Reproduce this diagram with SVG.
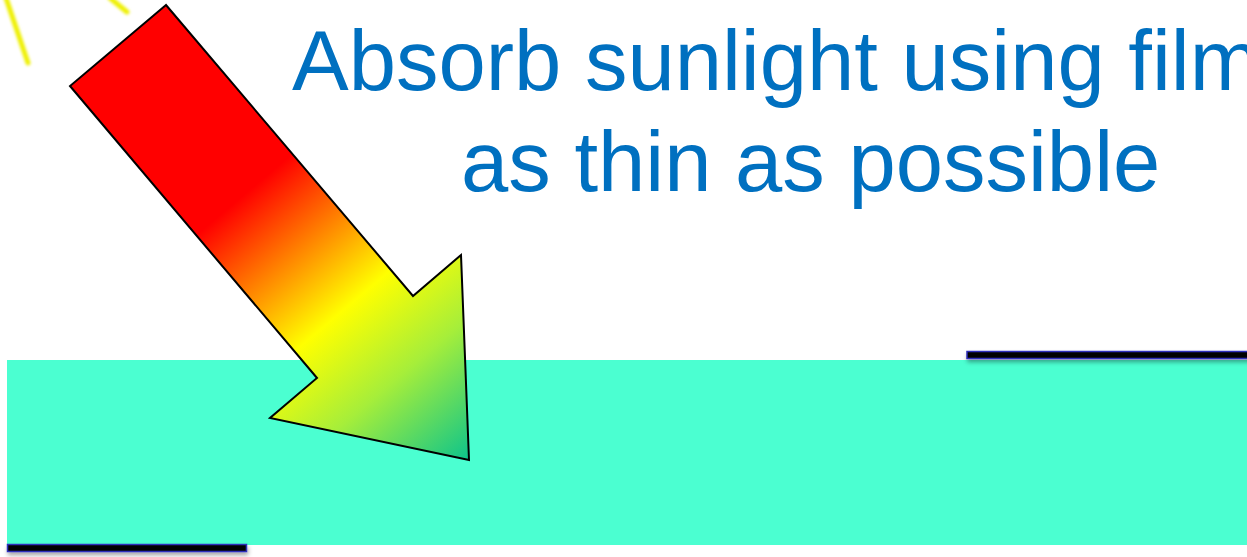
<svg xmlns="http://www.w3.org/2000/svg" width="1247" height="557" viewBox="0 0 1247 557">
  <defs>
    <linearGradient id="arrowGrad" gradientUnits="userSpaceOnUse" x1="118" y1="45" x2="469" y2="460">
      <stop offset="0" stop-color="#FF0000"/>
      <stop offset="0.36" stop-color="#FF0000"/>
      <stop offset="0.50" stop-color="#FF8000"/>
      <stop offset="0.64" stop-color="#FFFF00"/>
      <stop offset="0.80" stop-color="#A6EE3A"/>
      <stop offset="1" stop-color="#0CC48C"/>
    </linearGradient>
    <filter id="blur" x="-50%" y="-50%" width="200%" height="200%">
      <feGaussianBlur stdDeviation="1.5"/>
    </filter>
    <filter id="shadow" x="-10%" y="-100%" width="120%" height="400%">
      <feDropShadow dx="1" dy="3" stdDeviation="2" flood-color="#000" flood-opacity="0.35"/>
    </filter>
  </defs>
  <style>
    .bar { fill: #000000; stroke: #2E2EBB; stroke-width: 1.5; filter: url(#shadow); }
    .ray { stroke: #EEF000; stroke-width: 5; stroke-linecap: round; fill: none; filter: url(#blur); }
    .title { font-family: "Liberation Sans", Arial, sans-serif; font-size: 85px; fill: #0070C0; }
  </style>
  <rect width="1247" height="557" fill="#FFFFFF"/>
  <g id="sun-rays">
    <line class="ray" x1="6" y1="-2" x2="28" y2="63"/>
    <line class="ray" x1="110" y1="-2" x2="127" y2="12"/>
  </g>
  <g id="film">
    <rect x="7" y="360" width="1240" height="185" fill="#4BFFD1"/>
  </g>
  <g id="contact-top">
    <rect class="bar" x="967" y="351.5" width="285" height="7"/>
  </g>
  <g id="contact-bottom">
    <rect class="bar" x="7.5" y="544.5" width="239" height="7"/>
  </g>
  <g id="sunlight-arrow">
    <polygon points="166,5 70,86 317,378 270,418 469,460 461,255 413,296" fill="url(#arrowGrad)" stroke="#000000" stroke-width="2" stroke-linejoin="miter"/>
  </g>
  <g id="caption">
    <text class="title" x="292" y="90">Absorb sunlight using film</text>
    <text class="title" x="461" y="191">as thin as possible</text>
  </g>
</svg>
